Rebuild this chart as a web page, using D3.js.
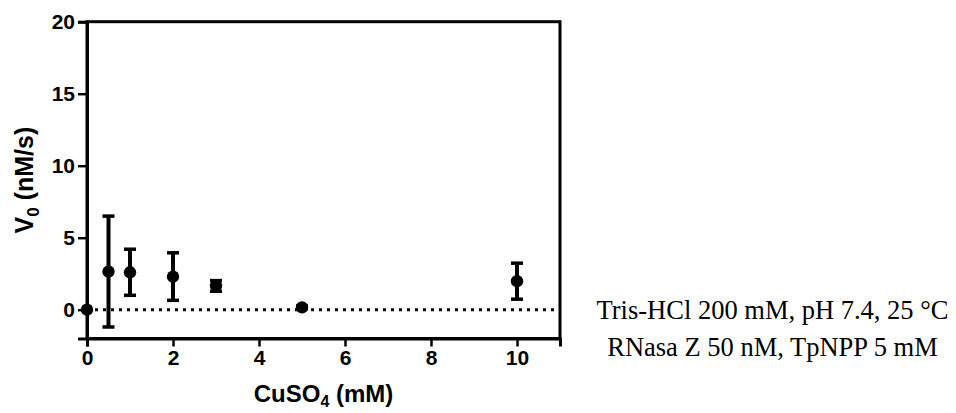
<!DOCTYPE html>
<html>
<head>
<meta charset="utf-8">
<script src="https://cdn.jsdelivr.net/npm/d3@7"></script>
<style>
  html, body { margin: 0; padding: 0; background: #fff; }
  svg { display: block; }
</style>
</head>
<body>
<svg id="chart" width="956" height="413"></svg>
<script>
// CuSO4 concentration (mM)
const conc = [0, 0.5, 1, 2, 3, 5, 10];
// Initial velocity V0 (nM/s), mean
const v0 = [0, 2.65, 2.6, 2.3, 1.65, 0.16, 1.98];
// Error bar half-widths (nM/s)
const err = [0, 3.85, 1.6, 1.65, 0.37, 0.1, 1.25];
const xTicks = [0, 2, 4, 6, 8, 10];
const yTicks = [0, 5, 10, 15, 20];
const notes = ["Tris-HCl 200 mM, pH 7.4, 25 °C", "RNasa Z 50 nM, TpNPP 5 mM"];

const svg = d3.select("#chart");
const plotLeft = 87, plotRight = 560, plotTop = 21.7, plotBottom = 338.5;

const x = d3.scaleLinear().domain([0, 11]).range([plotLeft, plotRight]);
const y = d3.scaleLinear().domain([-2, 20]).range([plotBottom, plotTop]);

const sans = "'Liberation Sans', Arial, sans-serif";

// frame
svg.append("rect")
  .attr("x", plotLeft).attr("y", plotTop)
  .attr("width", plotRight - plotLeft).attr("height", plotBottom - plotTop)
  .attr("fill", "none").attr("stroke", "#000").attr("stroke-width", 3);

// axes
const xAxis = svg.append("g")
  .attr("transform", `translate(0,${plotBottom})`)
  .call(d3.axisBottom(x).tickValues(xTicks).tickSize(8).tickPadding(4));
const yAxis = svg.append("g")
  .attr("transform", `translate(${plotLeft},0)`)
  .call(d3.axisLeft(y).tickValues(yTicks).tickSize(9).tickPadding(3));

[xAxis, yAxis].forEach(g => {
  g.select(".domain").attr("stroke-width", 3);
  g.selectAll(".tick line").attr("stroke-width", 2.5);
  g.selectAll(".tick text")
    .attr("font-family", sans).attr("font-weight", "bold")
    .attr("font-size", 21).attr("fill", "#000");
});

// zero reference line
svg.append("line")
  .attr("x1", x(0)).attr("x2", x(11))
  .attr("y1", y(0)).attr("y2", y(0))
  .attr("stroke", "#000").attr("stroke-width", 3)
  .attr("stroke-dasharray", "3,5");

// error bars
const data = conc.map((c, i) => ({ c, v: v0[i], e: err[i] }));
const eb = svg.append("g").selectAll("g").data(data.filter(d => d.e > 0)).join("g")
  .attr("stroke", "#000");
eb.append("line")
  .attr("x1", d => x(d.c)).attr("x2", d => x(d.c))
  .attr("y1", d => y(d.v + d.e)).attr("y2", d => y(d.v - d.e))
  .attr("stroke-width", 4);
eb.append("line")
  .attr("x1", d => x(d.c) - 6).attr("x2", d => x(d.c) + 6)
  .attr("y1", d => y(d.v + d.e)).attr("y2", d => y(d.v + d.e))
  .attr("stroke-width", 3.5);
eb.append("line")
  .attr("x1", d => x(d.c) - 6).attr("x2", d => x(d.c) + 6)
  .attr("y1", d => y(d.v - d.e)).attr("y2", d => y(d.v - d.e))
  .attr("stroke-width", 3.5);

// mean markers
svg.append("g").selectAll("circle").data(data).join("circle")
  .attr("cx", d => x(d.c)).attr("cy", d => y(d.v))
  .attr("r", 6.2).attr("fill", "#000");

// axis titles
const yt = svg.append("text")
  .attr("transform", `translate(33,${(plotTop + plotBottom) / 2}) rotate(-90)`)
  .attr("text-anchor", "middle")
  .attr("font-family", sans).attr("font-weight", "bold")
  .attr("font-size", 25).attr("fill", "#000");
yt.append("tspan").text("V");
yt.append("tspan").attr("font-size", 17).attr("dy", 6).text("0");
yt.append("tspan").attr("dy", -6).text(" (nM/s)");

const xt = svg.append("text")
  .attr("x", (plotLeft + plotRight) / 2).attr("y", 402)
  .attr("text-anchor", "middle")
  .attr("font-family", sans).attr("font-weight", "bold")
  .attr("font-size", 24).attr("fill", "#000");
xt.append("tspan").text("CuSO");
xt.append("tspan").attr("font-size", 16).attr("dy", 5).text("4");
xt.append("tspan").attr("dy", -5).text(" (mM)");

// experimental conditions
svg.append("g").selectAll("text").data(notes).join("text")
  .attr("x", 772.5).attr("y", (d, i) => 319 + i * 37)
  .attr("text-anchor", "middle")
  .attr("font-family", "'Liberation Serif', 'Times New Roman', serif")
  .attr("font-size", 26.5).attr("fill", "#000")
  .text(d => d);
</script>
</body>
</html>
